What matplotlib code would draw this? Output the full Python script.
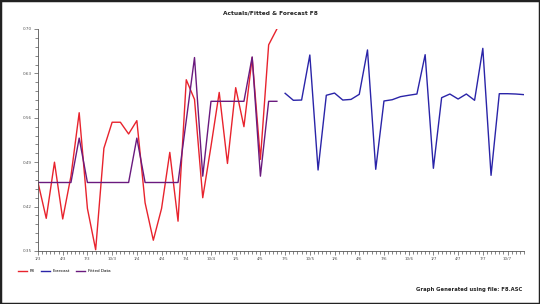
import matplotlib
matplotlib.use("Agg")
import matplotlib.pyplot as plt
from matplotlib.patches import Rectangle
from matplotlib.ticker import MultipleLocator, FormatStrFormatter

actual = [0.458, 0.4015, 0.490, 0.4005, 0.468, 0.568, 0.417, 0.352, 0.512, 0.553,
          0.553, 0.5345, 0.5555, 0.426, 0.367, 0.417, 0.5055, 0.397, 0.620, 0.589,
          0.434, 0.515, 0.600, 0.488, 0.6075, 0.546, 0.655, 0.4945, 0.675, 0.700]
fitted = [0.458, 0.458, 0.458, 0.458, 0.458, 0.528, 0.458, 0.458, 0.458, 0.458,
          0.458, 0.458, 0.528, 0.458, 0.458, 0.458, 0.458, 0.458, 0.556, 0.655,
          0.468, 0.586, 0.586, 0.586, 0.586, 0.586, 0.656, 0.468, 0.586, 0.586]
forecast = [0.5986, 0.5876, 0.588, 0.659, 0.4777, 0.5955, 0.599, 0.588, 0.589, 0.597,
            0.667, 0.4788, 0.5865, 0.5885, 0.5933, 0.5955, 0.5975, 0.6595, 0.4804, 0.5917,
            0.5975, 0.5896, 0.5975, 0.5876, 0.6695, 0.4693, 0.598, 0.598, 0.5975, 0.5965]
tick_labels = ["1/3", "4/3", "7/3", "10/3", "1/4", "4/4", "7/4", "10/4", "1/5", "4/5",
               "7/5", "10/5", "1/6", "4/6", "7/6", "10/6", "1/7", "4/7", "7/7", "10/7"]

x_act = list(range(len(actual)))
x_fit = list(range(len(fitted)))
x_fc = list(range(len(actual), len(actual) + len(forecast)))

fig = plt.figure(figsize=(5.4, 3.04), dpi=100)
fig.patch.set_facecolor("white")
ax = fig.add_axes([38/540, 53/304, 486/540, 222/304])

ax.plot(x_act, actual, color="#e8232d", lw=1.0, label="F8")
ax.plot(x_fc, forecast, color="#2a24a8", lw=1.0, label="Forecast")
ax.plot(x_fit, fitted, color="#6a1a7e", lw=1.0, label="Fitted Data")

ax.set_xlim(0, 59)
ax.set_ylim(0.35, 0.70)
for s in ["top", "right"]:
    ax.spines[s].set_visible(False)
for s in ["left", "bottom"]:
    ax.spines[s].set_color("#555555")
    ax.spines[s].set_linewidth(0.6)

ax.yaxis.set_major_locator(MultipleLocator(0.07))
ax.yaxis.set_minor_locator(MultipleLocator(0.014))
ax.yaxis.set_major_formatter(FormatStrFormatter("%.2f"))
ax.set_xticks([3 * i for i in range(len(tick_labels))])
ax.set_xticklabels(tick_labels)
ax.xaxis.set_minor_locator(MultipleLocator(0.5))
ax.tick_params(axis="both", which="major", labelsize=3, length=3, width=0.5,
               colors="#555555", pad=1.5)
ax.tick_params(axis="both", which="minor", length=2, width=0.5, color="#555555")

fig.text(0.5, 1 - 13/304, "Actuals/Fitted & Forecast F8", ha="center", va="center",
         fontsize=4.2, fontweight="bold", color="#222222")
fig.text(522/540, 1 - 290/304, "Graph Generated using file: F8.ASC", ha="right",
         va="center", fontsize=3.8, fontweight="bold", color="#222222")

leg = fig.legend(loc="center left", bbox_to_anchor=(14/540, 1 - 271/304), ncol=3,
                 frameon=False, fontsize=3, handlelength=2.2, columnspacing=1.5,
                 handletextpad=0.6)

fig.add_artist(Rectangle((0, 0), 1, 1, transform=fig.transFigure, fill=False,
                         edgecolor="#222222", lw=2.5))

fig.savefig("out.png", dpi=100)
